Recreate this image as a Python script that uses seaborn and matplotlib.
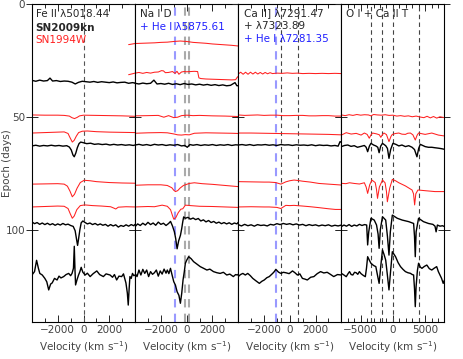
import numpy as np
import matplotlib
matplotlib.use("Agg")
import matplotlib.pyplot as plt
import seaborn as sns
from matplotlib.ticker import MultipleLocator, FixedLocator

# --- EPOCHS (days) : vertical offset of each spectrum ---
epoch_kn = [34.3, 62.4, 97.8, 119.9]              # SN2009kn (black)
epoch_94w = [17.5, 30.5, 49.5, 57.1, 80.0, 89.8]   # SN1994W (red)

# --- line rest positions (km/s) ---
fe_lines = [0]
na_lines = [-152, 152]
na_he_lines = [-880]
ca_lines = [-665, 665]
ca_he_lines = [-1080]
ot_lines = [-3410, -1620, 0, 3980]

# ===== Fe II 5018 panel (velocity km/s, flux offset in days) =====
fe_kn34_v = [-4000,-3700,-3400,-3100,-2800,-2600,-2400,-2100,-1800,-1500,-1200,-900,-640,-400,-100,200,500,800,1100,1400,1700,2000,2300,2600,2900,3200,3500,3800,4000]
fe_kn34_f = [0.5,0.1,0.6,0.2,0.4,1.5,0.2,0.4,0.0,0.2,0.1,-0.3,-1.1,-0.4,0.1,-0.1,-0.3,0.0,-0.4,-0.1,-0.3,-0.5,-0.2,-0.6,-0.4,-0.3,-0.8,-0.5,-0.7]
fe_w50_v = [-4000,-3000,-2000,-1500,-1100,-900,-700,-500,-300,0,1000,2000,3000,4000]
fe_w50_f = [0.4,0.3,0.3,0.2,-0.1,-0.8,-1.2,-0.7,0.0,0.3,0.2,0.1,0.0,-0.2]
fe_w57_v = [-4000,-3000,-2000,-1500,-1200,-1050,-870,-720,-560,-380,-100,300,1000,2000,3000,4000]
fe_w57_f = [0.0,0.2,0.4,0.5,-0.2,-2.0,-4.0,-3.2,-1.4,0.2,0.8,0.9,0.6,0.4,0.3,0.2]
fe_kn62_v = [-4000,-3700,-3400,-3100,-2800,-2500,-2200,-1900,-1600,-1300,-1100,-950,-820,-720,-600,-480,-350,-220,0,250,550,850,1150,1450,1750,2050,2350,2650,2950,3250,3550,3850,4000]
fe_kn62_f = [-0.4,-0.1,-0.5,-0.2,-0.4,-0.1,-0.4,-0.2,-0.5,-0.3,-0.9,-2.2,-4.4,-5.2,-3.6,-1.2,0.6,1.3,1.0,0.6,0.8,0.3,0.5,0.2,0.4,0.0,0.3,0.0,0.2,-0.1,0.1,-0.2,0.0]
fe_w80_v = [-4000,-3000,-2000,-1500,-1250,-1050,-870,-700,-500,-250,50,500,1000,2000,3000,4000]
fe_w80_f = [0.3,0.4,0.5,0.3,-0.6,-2.8,-5.3,-4.2,-1.5,1.0,2.0,1.8,1.4,1.0,0.8,0.7]
fe_w90_v = [-4000,-3000,-2000,-1500,-1200,-1030,-870,-720,-520,-250,100,700,1400,2100,2350,2500,2700,3300,4000]
fe_w90_f = [0.0,0.2,0.4,0.3,-0.7,-3.0,-5.0,-4.0,-1.2,0.6,0.9,0.6,0.4,0.1,-0.5,-0.9,-0.1,0.1,0.0]
fe_kn98_v = [-4000,-3800,-3600,-3400,-3200,-3000,-2800,-2600,-2400,-2200,-2000,-1800,-1600,-1400,-1200,-1000,-800,-650,-520,-460,-380,-280,-180,-50,100,300,500,700,900,1100,1300,1500,1700,1900,2100,2300,2500,2700,2900,3100,3300,3500,3700,3900,4000]
fe_kn98_f = [1.4,0.6,1.1,0.3,0.9,0.2,0.8,0.1,0.6,-0.1,0.5,0.0,0.7,0.1,0.4,-0.2,-0.6,-2.5,-7.0,-9.0,-6.0,-2.0,1.0,1.8,1.2,0.5,0.9,0.2,0.7,0.0,0.5,-0.1,0.3,-0.5,0.2,-0.4,0.1,-0.9,-0.2,-0.6,0.1,-0.5,0.2,-0.3,0.3]
fe_kn120_v = [-4000,-3800,-3640,-3500,-3390,-3200,-3000,-2850,-2700,-2550,-2430,-2250,-2050,-1900,-1750,-1540,-1350,-1150,-1000,-890,-780,-716,-660,-616,-500,-385,-280,-180,-50,130,300,515,750,1030,1250,1540,1750,2060,2250,2400,2570,2750,2960,3100,3290,3400,3470,3540,3600,3700,3800,3900,4000]
fe_kn120_f = [0.0,1.5,6.5,3.0,0.7,0.0,-1.5,-3.0,-6.6,-4.0,-3.5,-1.5,-2.2,-0.5,-1.3,-0.7,0.2,0.7,-0.3,0.7,3.0,12.7,2.0,-4.4,-2.0,0.0,1.5,3.4,1.2,0.0,0.8,-0.7,0.6,1.8,0.2,-0.7,0.5,0.0,-1.0,0.2,-2.2,-0.5,-0.7,0.5,-3.5,-8.0,-13.3,-6.0,-0.7,-1.5,0.7,-0.3,0.0]

# ===== Na I D panel =====
na_w17_v = [-4500,-4000,-3500,-3000,-2500,-2000,-1500,-1000,-500,0,500,1000,1500,2000,2500,3000,3500,4000,4400]
na_w17_f = [-0.5,0.0,0.1,0.2,0.3,0.5,0.6,0.9,1.1,0.9,0.5,0.3,0.1,-0.2,-0.4,-0.6,-0.8,-1.1,-1.3]
na_w30_v = [-4500,-4000,-3700,-3400,-3100,-2800,-2500,-2200,-1950,-1800,-1650,-1400,-1100,-900,-750,-600,-400,-200,0,300,600,850,950,1100,1500,2000,2500,3000,3500,3800,3950,4000]
na_w30_f = [-0.8,-0.1,0.2,-0.2,0.2,-0.1,0.3,0.4,1.0,0.9,0.1,0.2,0.6,-0.2,0.7,-0.6,0.4,0.6,0.5,0.6,0.7,0.6,-2.2,-2.5,-2.7,-2.8,-2.9,-3.0,-3.1,-3.0,-1.7,-1.9]
na_kn34_v = [-4000,-3700,-3400,-3100,-2800,-2540,-2300,-2000,-1700,-1400,-1100,-800,-500,-200,100,400,700,1000,1300,1600,1900,2200,2500,2800,3100,3400,3750,3900,4100,4300]
na_kn34_f = [-0.8,-1.1,-0.7,-1.0,-0.8,0.6,-1.1,-0.9,-1.2,-0.8,-1.3,-1.0,-1.4,-0.9,-1.3,-1.1,-1.5,-1.2,-1.6,-1.3,-1.7,-1.4,-1.8,-1.5,-1.9,-1.7,-0.5,-1.9,-1.8,-1.6]
na_w50_v = [-4000,-3000,-2200,-1770,-1400,-1000,-700,-400,0,500,1000,2000,3000,4000]
na_w50_f = [0.0,0.1,0.2,-0.6,0.1,-0.8,-0.6,0.1,0.3,0.1,0.2,0.0,-0.1,-0.3]
na_w57_v = [-4000,-3000,-2000,-1500,-1000,-700,-400,-100,200,600,1500,2500,3500,4000]
na_w57_f = [-0.1,0.1,0.2,0.1,-0.4,-0.8,-0.9,-0.7,-0.8,-0.1,0.1,0.0,-0.1,-0.2]
na_kn62_v = [-4000,-3700,-3400,-3100,-2800,-2500,-2200,-1900,-1600,-1300,-1000,-700,-400,-150,50,250,500,800,1100,1400,1700,2000,2300,2600,2900,3200,3500,3800,4000]
na_kn62_f = [0.0,0.3,-0.1,0.2,-0.2,0.3,0.0,0.2,-0.2,0.1,-0.1,0.2,-0.4,-0.2,-1.0,0.2,-0.1,0.2,-0.2,0.1,-0.1,0.2,-0.2,0.1,-0.1,0.2,-0.2,0.1,0.0]
na_w80_v = [-4000,-3000,-2000,-1500,-1150,-1000,-870,-700,-500,-250,200,600,1200,2000,3000,4000]
na_w80_f = [-0.2,0.0,0.0,-0.3,-1.3,-2.4,-3.0,-2.6,-1.4,-0.3,0.6,0.9,0.5,0.2,-0.3,-0.8]
na_w90_v = [-4000,-3000,-2500,-1900,-1500,-1250,-1100,-1000,-850,-650,-450,-300,-100,300,1000,2000,3000,4000]
na_w90_f = [0.0,0.2,0.1,0.8,0.3,-1.2,-3.8,-5.4,-4.8,-2.5,-1.0,-0.8,0.8,0.6,0.3,0.2,0.0,-0.2]
na_kn98_v = [-4000,-3800,-3600,-3400,-3200,-3000,-2800,-2600,-2400,-2200,-2000,-1800,-1600,-1400,-1250,-1100,-950,-850,-740,-620,-480,-380,-300,-230,-100,100,300,500,700,900,1100,1300,1500,1700,1900,2100,2300,2500,2700,2900,3100,3300,3500,3700,3900,4000]
na_kn98_f = [-0.7,0.5,-0.2,0.8,0.0,1.2,0.2,0.9,-0.1,1.3,0.3,0.8,-0.2,0.7,1.6,-0.4,-3.0,-6.0,-10.5,-7.0,-4.5,-1.5,1.5,3.6,3.0,3.4,2.6,3.1,2.4,2.9,1.8,2.3,1.4,2.0,1.1,1.6,0.8,1.3,0.6,1.1,0.5,1.0,0.3,0.9,0.5,1.2]
na_kn120_v = [-4000,-3850,-3700,-3550,-3400,-3250,-3100,-2950,-2800,-2650,-2500,-2350,-2200,-2050,-1900,-1750,-1600,-1500,-1380,-1255,-1130,-1000,-870,-740,-600,-485,-380,-280,-180,-100,0,155,350,540,800,1055,1300,1570,1800,2080,2350,2600,2850,3110,3350,3620,3800,3930,4000]
na_kn120_f = [0.7,-0.7,2.2,0.0,2.5,0.7,2.2,-0.7,1.5,0.3,1.0,2.2,-0.5,1.8,0.4,2.6,0.8,2.2,0.6,2.95,0.0,-2.95,-4.5,-7.4,-9.0,-12.5,-8.0,-2.2,1.5,5.2,6.5,8.1,7.2,5.9,4.8,3.7,3.0,2.2,2.6,1.5,1.0,0.7,1.2,0.0,0.4,-0.7,0.2,0.0,0.3]

# ===== Ca II] 7291/7324 panel =====
ca_w30_v = [-4000,-3810,-3620,-3430,-3240,-3050,-2860,-2670,-2480,-2290,-2100,-1910,-1720,-1530,-1340,-1000,-600,-200,200,600,1000,1500,2000,2500,3000,3500,4000]
ca_w30_f = [-0.5,0.3,-0.6,0.3,-0.6,0.3,-0.5,0.3,-0.5,0.2,-0.5,0.2,-0.4,0.1,-0.3,-0.1,-0.2,0.0,-0.2,-0.1,-0.3,-0.2,-0.3,-0.2,-0.3,-0.2,-0.3]
ca_w50_v = [-4000,-3500,-3000,-2500,-2000,-1500,-1000,-500,0,500,1000,1500,2000,2500,3000,3500,4000]
ca_w50_f = [0.4,0.2,0.3,0.4,0.2,0.3,0.3,0.1,0.1,0.2,0.2,0.0,0.0,0.1,0.1,-0.1,-0.1]
ca_w57_v = [-4000,-3000,-2000,-1000,0,1000,2000,3000,4000]
ca_w57_f = [0.0,0.0,-0.1,-0.2,-0.3,-0.4,-0.5,-0.6,-0.8]
ca_kn62_v = [-4000,-3700,-3400,-3100,-2800,-2500,-2200,-1900,-1600,-1300,-1000,-700,-400,-100,200,500,800,1100,1400,1700,2000,2300,2600,2900,3200,3500,3750,3900,4000]
ca_kn62_f = [0.0,0.2,-0.1,0.2,-0.2,0.1,0.0,0.2,-0.1,0.1,-0.2,0.2,0.0,0.1,-0.2,0.1,-0.1,0.0,-0.2,0.1,-0.3,0.0,-0.2,-0.1,-0.4,-0.2,-0.5,1.5,1.2]
ca_w80_v = [-4000,-3000,-2000,-1600,-1100,-690,-310,0,330,650,980,1600,2260,3000,4000]
ca_w80_f = [1.4,1.3,1.2,1.2,1.0,0.3,1.3,1.8,2.1,1.9,1.6,1.2,0.6,0.3,-0.1]
ca_w90_v = [-4000,-3000,-2000,-1600,-1000,-690,-310,0,330,1000,1600,2260,3000,3540,4000]
ca_w90_f = [0.0,0.1,0.0,0.0,-0.2,-0.7,0.7,0.6,0.7,0.4,0.1,-0.3,-0.8,-1.1,-1.1]
ca_kn98_v = [-4000,-3750,-3500,-3250,-3000,-2750,-2500,-2250,-2000,-1750,-1500,-1250,-1000,-750,-500,-250,0,250,500,750,1000,1250,1500,1750,2000,2250,2500,2750,3000,3250,3500,3750,4000]
ca_kn98_f = [0.2,-0.4,0.3,-0.3,0.1,-0.5,0.2,-0.2,0.0,-0.4,0.3,0.0,0.6,0.2,0.7,0.3,0.6,0.1,0.5,0.0,0.3,-0.3,0.2,-0.2,0.1,-0.4,0.0,-0.3,0.1,-0.5,-0.1,-0.4,0.0]
ca_kn120_v = [-4000,-3820,-3640,-3450,-3260,-3060,-2870,-2620,-2360,-2170,-1980,-1780,-1590,-1460,-1330,-1200,-1080,-880,-690,-500,-310,-50,210,400,590,780,980,1170,1360,1620,1870,2130,2390,2640,2900,3150,3410,3700,4000]
ca_kn120_f = [-0.7,0.2,0.7,0.0,0.7,-0.3,-1.5,-2.6,-3.7,-2.8,-2.2,-1.2,-0.7,0.0,0.7,1.5,2.5,1.3,0.7,1.2,1.0,0.6,1.8,1.0,0.0,0.5,-1.5,-1.8,-2.2,-1.0,-0.7,0.6,1.5,0.9,1.2,0.3,-0.7,0.2,0.0]

# ===== O I + Ca II triplet panel =====
ot_w50_v = [-8000,-7400,-6800,-6200,-5600,-5000,-4400,-3800,-3400,-3000,-2400,-1800,-1200,-600,0,600,1200,1800,2400,3000,3600,4200,4800,5300,5800,6300,6800,7300,8000]
ot_w50_f = [0.4,0.1,0.5,0.2,0.6,0.3,0.5,0.4,0.0,0.6,0.4,0.3,0.5,0.2,0.3,-0.1,0.1,-0.2,0.0,-0.4,-0.1,-0.5,-0.8,-0.2,-0.9,-0.3,-1.0,-0.4,-0.8]
ot_w57_v = [-8000,-7240,-6470,-5700,-4940,-4430,-4000,-3670,-3400,-3150,-2500,-2100,-1880,-1600,-1380,-1000,-610,-300,-90,400,920,1400,1940,2300,2710,3100,3470,3750,3980,5000,6030,7050,8000]
ot_w57_f = [-0.9,0.15,-0.45,-0.15,-0.9,0.0,-0.6,-2.3,-0.8,0.0,-0.4,-0.8,-1.9,-0.6,0.0,-0.7,-3.8,-1.5,-0.6,-0.2,0.0,-0.5,-0.6,-0.1,0.0,-0.8,-3.1,-1.0,0.0,-0.6,0.0,-0.9,-1.3]
ot_kn62_v = [-8000,-7500,-7000,-6500,-6000,-5500,-4940,-4430,-4150,-3920,-3650,-3410,-3000,-2650,-2350,-2140,-1900,-1620,-1120,-850,-610,-350,0,450,920,1400,1940,2450,2970,3350,3730,4000,4240,5000,5500,6030,6500,7050,7500,8000]
ot_kn62_f = [-0.7,-0.2,0.0,-0.6,-0.3,-1.0,-0.6,-0.2,-1.0,-2.95,-0.5,0.74,0.0,-0.4,-1.0,-3.4,-0.5,0.74,-0.3,-1.5,-5.9,-2.0,0.74,0.3,-0.4,0.0,-0.7,-0.3,-1.0,-2.0,-5.2,-1.5,0.3,-0.7,-1.0,-1.0,-1.2,-1.4,-1.6,-1.9]
ot_w80_v = [-8000,-7300,-6730,-6000,-5200,-4430,-4150,-3920,-3600,-3260,-2750,-2550,-2390,-2100,-1620,-1220,-1000,-860,-500,-90,400,920,1940,2970,3200,3370,3550,3880,5000,6530,8000]
ot_w80_f = [0.66,0.5,0.9,0.6,0.35,0.9,-1.0,-3.8,0.0,2.1,1.0,-2.0,-6.0,-1.0,2.1,0.9,-3.0,-7.5,-1.5,2.4,1.8,0.9,-0.5,-2.3,-4.0,-8.9,-4.0,-2.3,-2.6,-3.0,-3.0]
ot_kn98_v = [-8000,-7600,-7200,-6800,-6400,-6000,-5600,-5200,-4800,-4400,-4070,-3920,-3750,-3410,-2900,-2540,-2300,-2140,-1950,-1620,-1120,-850,-610,-400,-90,670,1440,2450,3210,3350,3470,3600,3980,4740,5510,6200,6530,6700,6900,7300,7700,8000]
ot_kn98_f = [-0.7,0.0,-0.5,0.2,-0.6,0.0,-0.4,0.3,-0.2,0.2,0.0,-8.8,-3.0,3.0,2.2,0.0,-4.0,-10.3,-2.0,3.7,2.2,-5.0,-13.3,-3.0,4.4,3.0,2.2,1.5,0.7,-5.0,-14.0,-3.0,3.0,1.5,0.7,0.3,-0.5,-3.0,0.0,-0.5,-0.3,-0.7]
ot_kn120_v = [-8000,-7600,-7240,-6980,-6730,-6480,-6220,-5950,-5700,-5450,-5200,-4950,-4680,-4480,-4280,-4100,-3920,-3650,-3410,-3000,-2650,-2400,-2140,-1880,-1620,-1370,-1120,-860,-610,-350,-90,410,800,1180,1560,1940,2330,2710,3000,3210,3350,3470,3600,3800,3980,4250,4500,4880,5260,5650,6030,6400,6790,7050,7300,7550,7800,8000]
ot_kn120_f = [0.74,0.0,-0.74,0.5,1.5,0.2,0.0,1.2,1.0,0.3,1.5,0.6,0.0,-0.4,-0.74,3.0,8.1,6.5,5.2,4.2,3.7,0.0,-3.7,4.0,11.1,9.0,6.6,0.0,-6.6,2.0,10.3,8.1,5.5,3.7,2.5,1.5,1.0,0.74,0.2,0.0,-6.0,-14.0,-5.0,2.0,5.2,3.5,2.95,3.8,4.4,2.8,2.2,3.0,3.7,1.5,0.0,-1.5,-3.7,-2.2]

# --- STYLE ---
sns.set_style("ticks")
plt.rcParams['font.family'] = ['DejaVu Sans']
plt.rcParams['mathtext.default'] = 'regular'
TXT = '#444444'
RED = '#ff2020'
FS = 7.5


def draw(ax, v, f, epoch, color, lw, clip=True):
    y = epoch - np.asarray(f)
    sns.lineplot(x=v, y=y, sort=False, estimator=None, color=color,
                 linewidth=lw, ax=ax, legend=False)
    ax.lines[-1].set_clip_on(clip)


def black(ax, v, f, i):
    draw(ax, v, f, epoch_kn[i], 'black', 1.0)


def red(ax, v, f, i, clip=True):
    draw(ax, v, f, epoch_94w[i], RED, 0.75, clip)


fig, axes = plt.subplots(1, 4, figsize=(4.63, 3.59), dpi=100, sharey=True)
fig.subplots_adjust(left=0.069, right=0.96, bottom=0.103, top=0.989, wspace=0)
ax1, ax2, ax3, ax4 = axes

dash = (0, (4, 3))
for x in fe_lines:
    ax1.axvline(x, color='#555555', lw=0.8, ls=dash)
for x in na_he_lines:
    ax2.axvline(x, color='#9999ff', lw=1.5, ls=dash)
for x in na_lines:
    ax2.axvline(x, color='#aaaaaa', lw=1.5, ls=dash)
for x in ca_he_lines:
    ax3.axvline(x, color='#9999ff', lw=1.5, ls=dash)
for x in ca_lines:
    ax3.axvline(x, color='#444444', lw=0.8, ls=dash)
for x in ot_lines:
    ax4.axvline(x, color='#444444', lw=0.8, ls=dash)

# Fe II
black(ax1, fe_kn34_v, fe_kn34_f, 0)
red(ax1, fe_w50_v, fe_w50_f, 2)
red(ax1, fe_w57_v, fe_w57_f, 3)
black(ax1, fe_kn62_v, fe_kn62_f, 1)
red(ax1, fe_w80_v, fe_w80_f, 4)
red(ax1, fe_w90_v, fe_w90_f, 5)
black(ax1, fe_kn98_v, fe_kn98_f, 2)
black(ax1, fe_kn120_v, fe_kn120_f, 3)

# Na I D
red(ax2, na_w17_v, na_w17_f, 0, clip=False)
red(ax2, na_w30_v, na_w30_f, 1, clip=False)
draw(ax2, na_kn34_v, na_kn34_f, epoch_kn[0], 'black', 1.0, clip=False)
red(ax2, na_w50_v, na_w50_f, 2)
red(ax2, na_w57_v, na_w57_f, 3)
black(ax2, na_kn62_v, na_kn62_f, 1)
red(ax2, na_w80_v, na_w80_f, 4)
red(ax2, na_w90_v, na_w90_f, 5)
black(ax2, na_kn98_v, na_kn98_f, 2)
black(ax2, na_kn120_v, na_kn120_f, 3)

# Ca II]
red(ax3, ca_w30_v, ca_w30_f, 1)
red(ax3, ca_w50_v, ca_w50_f, 2)
red(ax3, ca_w57_v, ca_w57_f, 3)
black(ax3, ca_kn62_v, ca_kn62_f, 1)
red(ax3, ca_w80_v, ca_w80_f, 4)
red(ax3, ca_w90_v, ca_w90_f, 5)
black(ax3, ca_kn98_v, ca_kn98_f, 2)
black(ax3, ca_kn120_v, ca_kn120_f, 3)

# O I + Ca II triplet
red(ax4, ot_w50_v, ot_w50_f, 2)
red(ax4, ot_w57_v, ot_w57_f, 3)
black(ax4, ot_kn62_v, ot_kn62_f, 1)
red(ax4, ot_w80_v, ot_w80_f, 4)
black(ax4, ot_kn98_v, ot_kn98_f, 2)
black(ax4, ot_kn120_v, ot_kn120_f, 3)

# --- AXES ---
ax1.set_ylim(140.7, 0)
for ax in axes[:3]:
    ax.set_xlim(-4000, 4000)
    ax.xaxis.set_major_locator(FixedLocator([-2000, 0, 2000]))
    ax.xaxis.set_minor_locator(MultipleLocator(1000))
ax4.set_xlim(-8000, 8000)
ax4.xaxis.set_major_locator(FixedLocator([-5000, 0, 5000]))
ax4.xaxis.set_minor_locator(MultipleLocator(1000))

for ax in axes:
    ax.set_yticks([0, 50, 100])
    ax.tick_params(axis='x', which='both', direction='in', top=True, bottom=True,
                   labelsize=FS, labelcolor=TXT, pad=2)
    ax.tick_params(axis='x', which='major', length=5, width=0.7)
    ax.tick_params(axis='x', which='minor', length=3, width=0.7)
    ax.tick_params(axis='y', which='major', direction='inout', left=True, right=True,
                   length=8, width=0.7, labelsize=FS, labelcolor=TXT, pad=1)
    ax.set_xlabel('Velocity (km s$^{-1}$)', fontsize=FS, color=TXT, labelpad=3)
    ax.set_ylabel('')
    for s in ax.spines.values():
        s.set_linewidth(0.8)
        s.set_color('black')
    ax.set_facecolor('white')

ax1.set_ylabel('Epoch (days)', fontsize=FS, color=TXT)
ax1.yaxis.set_label_coords(-0.19, 0.5)
ax4.yaxis.set_label_position('right')
ax4.set_ylabel('log(Flux)', fontsize=FS, color=TXT, labelpad=6, rotation=90)

# --- ANNOTATIONS ---
ax1.text(0.035, 0.969, 'Fe II λ5018.44', transform=ax1.transAxes, fontsize=FS, va='center')
ax1.text(0.035, 0.925, 'SN2009kn', transform=ax1.transAxes, fontsize=FS, fontweight='bold', va='center')
ax1.text(0.035, 0.887, 'SN1994W', transform=ax1.transAxes, fontsize=FS, color=RED, va='center')
ax2.text(0.05, 0.969, 'Na I D', transform=ax2.transAxes, fontsize=FS, va='center')
ax2.text(0.05, 0.929, '+ He I λ5875.61', transform=ax2.transAxes, fontsize=FS, color='#2020ff', va='center')
ax3.text(0.055, 0.971, 'Ca II] λ7291.47', transform=ax3.transAxes, fontsize=FS, va='center')
ax3.text(0.055, 0.931, '+ λ7323.89', transform=ax3.transAxes, fontsize=FS, va='center')
ax3.text(0.055, 0.889, '+ He I λ7281.35', transform=ax3.transAxes, fontsize=FS, color='#2020ff', va='center')
ax4.text(0.045, 0.969, 'O I + Ca II T', transform=ax4.transAxes, fontsize=FS, va='center')

fig.savefig('out.png', dpi=100)
